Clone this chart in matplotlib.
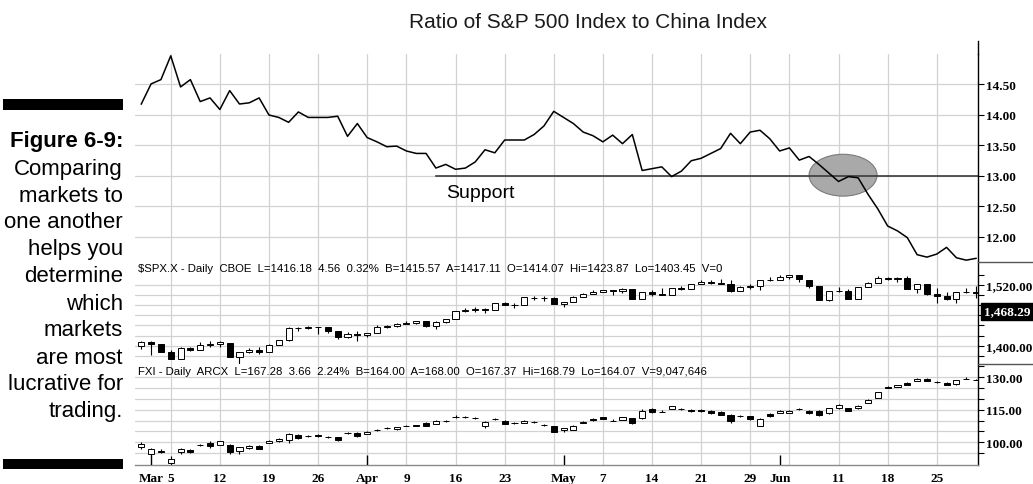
import numpy as np
import pandas as pd
import matplotlib
matplotlib.use('Agg')
import matplotlib.pyplot as plt
from matplotlib.lines import Line2D
from matplotlib.patches import Rectangle, Ellipse

# trading days shown on the chart (Feb 28 - Jun 29, 2007)
holidays = ['2007-04-06', '2007-05-28']
tick_dates = ['2007-03-01', '2007-03-05', '2007-03-12', '2007-03-19', '2007-03-26',
              '2007-04-02', '2007-04-09', '2007-04-16', '2007-04-23', '2007-05-01',
              '2007-05-07', '2007-05-14', '2007-05-21', '2007-05-29', '2007-06-01',
              '2007-06-11', '2007-06-18', '2007-06-25']
tick_labels = ['Mar', '5', '12', '19', '26', 'Apr', '9', '16', '23', 'May',
               '7', '14', '21', '29', 'Jun', '11', '18', '25']

# ratio S&P 500 / China index
ratio = [14.18, 14.51, 14.58, 14.97, 14.46, 14.58, 14.22, 14.28, 14.09, 14.40,
         14.18, 14.20, 14.28, 14.00, 13.96, 13.88, 14.05, 13.96, 13.96, 13.96,
         13.98, 13.65, 13.86, 13.63, 13.56, 13.48, 13.49, 13.41, 13.37, 13.37,
         13.13, 13.19, 13.11, 13.13, 13.23, 13.43, 13.38, 13.59, 13.59, 13.59,
         13.68, 13.82, 14.06, 13.96, 13.86, 13.72, 13.66, 13.56, 13.67, 13.53,
         13.68, 13.09, 13.12, 13.15, 12.99, 13.08, 13.25, 13.29, 13.37, 13.45,
         13.70, 13.53, 13.72, 13.75, 13.61, 13.41, 13.46, 13.26, 13.32, 13.19,
         13.05, 12.91, 12.99, 12.97, 12.70, 12.46, 12.18, 12.10, 11.99, 11.71,
         11.67, 11.72, 11.83, 11.66, 11.62, 11.65]
support_level = 13.00
support_start = 30

# $SPX.X daily OHLC
spx_open = [1398.6, 1406.8, 1403.2, 1387.1, 1374.1, 1395.0, 1391.9, 1401.9, 1402.8, 1406.2,
            1377.9, 1387.1, 1392.3, 1387.0, 1402.0, 1410.9, 1435.0, 1434.5, 1436.1, 1437.5,
            1428.3, 1417.2, 1422.5, 1420.8, 1424.3, 1437.8, 1438.9, 1443.8, 1444.6, 1448.2,
            1438.9, 1447.8, 1452.8, 1468.5, 1471.5, 1472.5, 1470.7, 1484.3, 1480.9, 1480.4,
            1495.3, 1494.2, 1494.1, 1482.4, 1486.1, 1495.6, 1502.3, 1505.6, 1509.4, 1507.3,
            1512.3, 1491.5, 1505.8, 1503.1, 1501.2, 1514.0, 1512.7, 1522.8, 1525.1, 1524.1,
            1522.1, 1507.5, 1515.6, 1517.6, 1530.2, 1530.6, 1536.3, 1539.1, 1530.6, 1517.4,
            1490.7, 1507.6, 1509.1, 1492.6, 1515.6, 1523.0, 1532.9, 1531.1, 1533.7, 1512.8,
            1522.2, 1502.6, 1497.7, 1492.2, 1506.3, 1505.7]
spx_high = [1409.5, 1409.5, 1403.4, 1391.9, 1397.9, 1396.5, 1407.9, 1410.2, 1409.3, 1406.2,
            1388.1, 1395.7, 1397.5, 1403.2, 1411.5, 1437.8, 1437.7, 1438.9, 1437.7, 1437.5,
            1428.3, 1426.2, 1429.2, 1425.5, 1440.6, 1440.2, 1444.9, 1448.1, 1448.7, 1448.2,
            1448.0, 1453.1, 1468.6, 1474.4, 1476.6, 1474.2, 1484.7, 1487.3, 1483.8, 1496.6,
            1498.0, 1497.3, 1497.2, 1487.3, 1499.1, 1503.3, 1510.3, 1511.0, 1509.4, 1513.8,
            1512.3, 1506.2, 1510.9, 1514.8, 1514.2, 1517.1, 1522.8, 1529.9, 1529.2, 1532.4,
            1529.3, 1517.4, 1521.8, 1530.2, 1535.6, 1540.6, 1540.5, 1539.1, 1530.6, 1517.4,
            1507.8, 1515.4, 1511.3, 1515.7, 1526.5, 1538.7, 1535.4, 1535.9, 1537.3, 1522.9,
            1522.2, 1514.3, 1506.1, 1506.8, 1514.8, 1517.5]
spx_low = [1393.7, 1380.9, 1386.9, 1373.4, 1374.1, 1390.3, 1391.9, 1397.3, 1396.7, 1377.7,
           1363.9, 1385.2, 1383.6, 1387.0, 1400.7, 1409.9, 1429.9, 1433.2, 1423.3, 1425.5,
           1414.1, 1415.5, 1408.9, 1416.4, 1424.3, 1435.1, 1436.7, 1443.3, 1443.0, 1436.2,
           1433.9, 1444.6, 1452.8, 1467.2, 1466.4, 1464.5, 1470.7, 1480.3, 1473.7, 1480.4,
           1491.0, 1488.7, 1482.3, 1476.7, 1486.1, 1495.6, 1501.8, 1505.5, 1500.7, 1503.8,
           1491.4, 1491.5, 1498.3, 1500.4, 1500.3, 1509.3, 1512.7, 1522.7, 1522.1, 1521.9,
           1505.2, 1507.5, 1512.0, 1510.1, 1528.0, 1530.6, 1532.3, 1525.6, 1514.1, 1490.4,
           1487.4, 1505.2, 1492.9, 1492.6, 1515.6, 1523.0, 1529.3, 1525.7, 1512.4, 1504.8,
           1500.7, 1484.2, 1490.5, 1484.2, 1503.4, 1493.6]
spx_close = [1406.8, 1403.2, 1387.2, 1374.1, 1395.4, 1392.0, 1401.9, 1402.8, 1406.6, 1378.0,
             1387.2, 1392.3, 1387.0, 1402.1, 1410.9, 1435.0, 1434.5, 1436.1, 1437.5, 1428.6,
             1417.2, 1422.5, 1420.9, 1424.6, 1437.8, 1439.4, 1443.8, 1444.6, 1448.4, 1438.9,
             1447.8, 1452.9, 1468.5, 1471.5, 1472.5, 1470.7, 1484.4, 1480.9, 1480.4, 1495.4,
             1494.3, 1494.1, 1482.4, 1486.3, 1495.9, 1502.4, 1505.6, 1509.5, 1507.7, 1512.6,
             1491.5, 1505.9, 1503.2, 1501.2, 1514.1, 1512.8, 1522.8, 1525.1, 1524.1, 1522.3,
             1507.5, 1515.7, 1518.1, 1530.2, 1530.6, 1536.3, 1539.2, 1531.0, 1517.4, 1490.7,
             1507.7, 1509.1, 1493.0, 1515.7, 1523.0, 1532.9, 1531.1, 1533.7, 1512.8, 1522.2,
             1502.6, 1497.7, 1492.9, 1506.3, 1505.7, 1503.4]
spx_tag = 1468.29

# FXI daily OHLC
fxi_open = [97.8, 94.7, 95.8, 90.6, 95.5, 96.4, 98.7, 99.8, 98.8, 98.9,
            96.1, 97.3, 98.3, 99.8, 100.4, 101.2, 103.3, 102.9, 103.4, 102.4,
            102.3, 104.1, 104.3, 103.9, 105.7, 106.4, 105.9, 107.6, 107.8, 108.8,
            108.5, 109.6, 111.7, 111.7, 111.4, 107.6, 110.7, 110.0, 108.8, 109.0,
            109.3, 108.0, 107.4, 105.5, 105.8, 109.1, 110.7, 111.5, 110.0, 110.4,
            111.2, 111.1, 115.4, 114.1, 115.4, 115.4, 114.9, 115.0, 114.6, 114.1,
            112.6, 112.0, 112.0, 107.7, 113.2, 113.5, 113.6, 115.4, 114.6, 114.4,
            113.4, 115.7, 115.7, 115.7, 118.1, 120.5, 125.5, 125.6, 127.3, 128.3,
            129.4, 127.8, 127.5, 126.8, 129.3, 128.9]
fxi_high = [100.2, 97.2, 97.0, 93.5, 97.2, 96.8, 99.2, 100.7, 100.8, 99.0,
            98.0, 98.6, 98.5, 101.1, 101.8, 104.2, 103.6, 103.3, 103.9, 102.8,
            102.5, 104.6, 104.6, 105.2, 106.2, 106.9, 107.2, 108.0, 108.0, 109.2,
            110.3, 110.2, 112.4, 112.3, 111.7, 109.8, 111.2, 110.3, 109.3, 110.3,
            109.6, 108.4, 107.6, 106.7, 107.9, 109.6, 111.0, 111.8, 110.5, 111.8,
            111.4, 115.5, 115.7, 115.1, 116.8, 115.8, 115.2, 115.2, 114.9, 114.3,
            112.9, 112.4, 112.3, 111.0, 113.6, 114.8, 114.8, 115.9, 114.9, 114.7,
            115.9, 117.6, 116.0, 117.2, 120.0, 123.4, 125.9, 126.6, 127.6, 129.6,
            129.8, 128.4, 127.8, 128.7, 129.9, 129.1]
fxi_low = [97.0, 93.5, 95.2, 89.6, 94.8, 95.0, 98.3, 97.4, 98.6, 94.8,
           94.7, 97.0, 96.8, 99.6, 100.1, 99.5, 101.7, 102.4, 102.4, 101.9,
           100.6, 103.8, 102.4, 103.7, 105.4, 106.1, 105.7, 107.3, 107.4, 107.3,
           108.2, 109.3, 111.3, 111.3, 110.9, 106.8, 110.4, 108.2, 108.5, 108.8,
           108.9, 107.6, 104.7, 104.9, 105.6, 108.8, 109.9, 110.6, 109.6, 110.2,
           108.6, 110.9, 113.6, 113.9, 115.2, 115.1, 114.1, 114.1, 113.2, 112.4,
           109.1, 111.7, 110.2, 107.5, 111.8, 113.3, 113.4, 115.0, 113.2, 112.3,
           113.2, 115.5, 114.4, 115.5, 117.9, 120.3, 124.9, 125.4, 126.2, 128.1,
           128.1, 127.3, 126.3, 126.5, 129.0, 128.7]
fxi_close = [99.0, 96.9, 95.5, 92.3, 96.8, 95.5, 98.9, 98.3, 100.4, 95.5,
             97.7, 98.2, 97.0, 100.8, 101.5, 103.8, 102.0, 102.7, 102.9, 102.3,
             101.2, 104.2, 102.7, 104.9, 105.8, 106.5, 106.9, 107.7, 107.6, 107.5,
             110.0, 109.7, 111.8, 111.8, 111.1, 109.4, 110.8, 108.5, 108.9, 110.0,
             109.2, 108.0, 104.9, 106.4, 107.7, 109.2, 110.1, 110.8, 110.0, 111.5,
             108.9, 114.6, 113.9, 114.1, 116.6, 115.4, 114.3, 114.3, 113.5, 112.7,
             110.0, 112.0, 110.5, 110.8, 112.1, 114.6, 114.6, 115.4, 113.5, 112.6,
             115.7, 117.2, 114.6, 116.9, 119.7, 123.2, 125.2, 126.3, 126.5, 129.3,
             128.4, 127.8, 126.6, 128.5, 129.3, 128.8]

spx_header = ('$SPX.X - Daily  CBOE  L=1416.18  4.56  0.32%  B=1415.57  A=1417.11  '
              'O=1414.07  Hi=1423.87  Lo=1403.45  V=0')
fxi_header = ('FXI - Daily  ARCX  L=167.28  3.66  2.24%  B=164.00  A=168.00  '
              'O=167.37  Hi=168.79  Lo=164.07  V=9,047,646')
caption_head = 'Figure 6-9:'
caption_lines = ['Comparing', 'markets to', 'one another', 'helps you', 'determine',
                 'which', 'markets', 'are most', 'lucrative for', 'trading.']

# ---------------------------------------------------------------------------
W, H = 1033, 485
dates = pd.bdate_range('2007-02-28', '2007-06-29')
dates = dates[~dates.isin(pd.to_datetime(holidays))]
x = np.arange(len(dates))
week = dates.isocalendar().week.values
week_starts = [i for i in range(1, len(dates)) if week[i] != week[i - 1]]
month_starts = [i for i in range(1, len(dates)) if dates[i].month != dates[i - 1].month]
tick_pos = [dates.get_loc(pd.Timestamp(d)) for d in tick_dates]

SANS = 'Liberation Sans'
SERIF = 'Liberation Serif'
GRID = '#d2d2d2'


def frac_rect(left, top, right, bottom):
    return [left / W, 1 - bottom / H, (right - left) / W, (bottom - top) / H]


fig = plt.figure(figsize=(W / 100, H / 100), dpi=100)
ax_r = fig.add_axes(frac_rect(135, 55, 978, 263))
ax_s = fig.add_axes(frac_rect(135, 263, 978, 365), sharex=ax_r)
ax_f = fig.add_axes(frac_rect(135, 365, 978, 466), sharex=ax_r)

xlim = (-0.64, 85.2)


def style(ax, ylim, major, minor=None, fmt='{:,.2f}'):
    ax.set_xlim(*xlim)
    ax.set_ylim(*ylim)
    for s in ['left', 'top', 'bottom']:
        ax.spines[s].set_visible(False)
    ax.spines['right'].set_color('black')
    ax.spines['right'].set_linewidth(1.0)
    ax.yaxis.tick_right()
    ax.set_yticks(major)
    ax.set_yticklabels([fmt.format(v) for v in major], fontfamily=SERIF,
                       fontweight='bold', fontsize=9.5)
    if minor is not None:
        ax.set_yticks(minor, minor=True)
    ax.tick_params(axis='y', which='both', direction='out', length=4, width=0.8,
                   pad=1.5, colors='black')
    ax.tick_params(axis='x', which='both', length=0, labelbottom=False)
    for i in week_starts:
        ax.axvline(i, color=GRID, lw=0.9, zorder=0)


def candles(ax, o, h, l, c):
    o, h, l, c = map(np.asarray, (o, h, l, c))
    up = c >= o
    ax.vlines(x, l, h, color='black', lw=0.8, zorder=2)
    ax.bar(x, np.abs(c - o), bottom=np.minimum(o, c), width=0.62,
           color=np.where(up, 'white', 'black'), edgecolor='black', linewidth=0.7, zorder=3)


# --- ratio panel
r_major = [12.0, 12.5, 13.0, 13.5, 14.0, 14.5]
style(ax_r, (11.59, 15.0), r_major)
for v in r_major:
    ax_r.axhline(v, color=GRID, lw=0.9, zorder=0)
ax_r.add_patch(Ellipse((71.46, 13.013), 6.92, 0.686, facecolor='#a9a9a9',
                       edgecolor='#7a7a7a', lw=0.8, zorder=1))
ax_r.plot([support_start, xlim[1]], [support_level, support_level], color='#3a3a3a',
          lw=1.2, zorder=2)
ax_r.plot(x, ratio, color='black', lw=1.1, zorder=3)
ax_r.text(support_start + 1.0, 12.735, 'Support', fontfamily=SANS, fontsize=14,
          ha='left', va='center', color='black')

# --- SPX panel
s_major = [1400, 1520]
style(ax_s, (1363.8, 1565.5), s_major, minor=np.arange(1380, 1560, 20))
for v in np.arange(1380, 1540, 20):
    ax_s.axhline(v, color=GRID, lw=0.9, zorder=0)
candles(ax_s, spx_open, spx_high, spx_low, spx_close)
ax_s.text(0.003, 0.94, spx_header, transform=ax_s.transAxes, fontfamily=SANS,
          fontsize=8.2, ha='left', va='center')
ax_s.annotate('{:,.2f}'.format(spx_tag), xy=(1, spx_tag),
              xycoords=('axes fraction', 'data'), xytext=(4.2, 0),
              textcoords='offset points', ha='left', va='center', color='white',
              fontfamily=SERIF, fontweight='bold', fontsize=9.5, annotation_clip=False,
              bbox=dict(boxstyle='square,pad=0.18', fc='black', ec='black'))

# --- FXI panel
f_major = [100, 115, 130]
style(ax_f, (89.5, 136.1), f_major, minor=np.arange(95, 136, 5))
for v in np.arange(95, 131, 5):
    ax_f.axhline(v, color=GRID, lw=0.9, zorder=0)
candles(ax_f, fxi_open, fxi_high, fxi_low, fxi_close)
ax_f.text(0.003, 0.93, fxi_header, transform=ax_f.transAxes, fontfamily=SANS,
          fontsize=8.2, ha='left', va='center')
ax_f.spines['bottom'].set_visible(True)
ax_f.spines['bottom'].set_color('#8a8a8a')
ax_f.spines['bottom'].set_linewidth(1.0)
ax_f.set_xticks(tick_pos)
ax_f.set_xticklabels(tick_labels, fontfamily=SERIF, fontweight='bold', fontsize=9.5)
ax_f.tick_params(axis='x', length=0, pad=5, labelbottom=True)
ax_f.vlines(month_starts, 0, 0.1, transform=ax_f.get_xaxis_transform(),
            color='black', lw=1.0, zorder=4)

# --- frame pieces right of the price axis
xa = 978 / W
fig.add_artist(Line2D([xa, xa], [1 - 42 / H, 1 - 55 / H], color='black', lw=1.0))
for yy in [263, 365]:
    fig.add_artist(Line2D([xa, 1], [1 - yy / H] * 2, color='#555555', lw=1.0))

# --- title and caption
fig.text(588 / W, 1 - 23 / H, 'Ratio of S&P 500 Index to China Index', fontfamily=SANS,
         fontsize=15, ha='center', va='center', color='#1a1a1a')
fig.add_artist(Rectangle((3 / W, 1 - 110.5 / H), 120 / W, 10.5 / H, transform=fig.transFigure,
                         facecolor='black', edgecolor='none'))
fig.add_artist(Rectangle((3 / W, 1 - 470 / H), 120 / W, 10 / H, transform=fig.transFigure,
                         facecolor='black', edgecolor='none'))
fig.text(123 / W, 1 - 142 / H, caption_head, fontfamily=SANS, fontweight='bold',
         fontsize=16, ha='right', va='center')
for k, line in enumerate(caption_lines):
    fig.text(123 / W, 1 - (142 + 27 * (k + 1)) / H, line, fontfamily=SANS,
             fontsize=16, ha='right', va='center')

fig.savefig('out.png', dpi=100)
